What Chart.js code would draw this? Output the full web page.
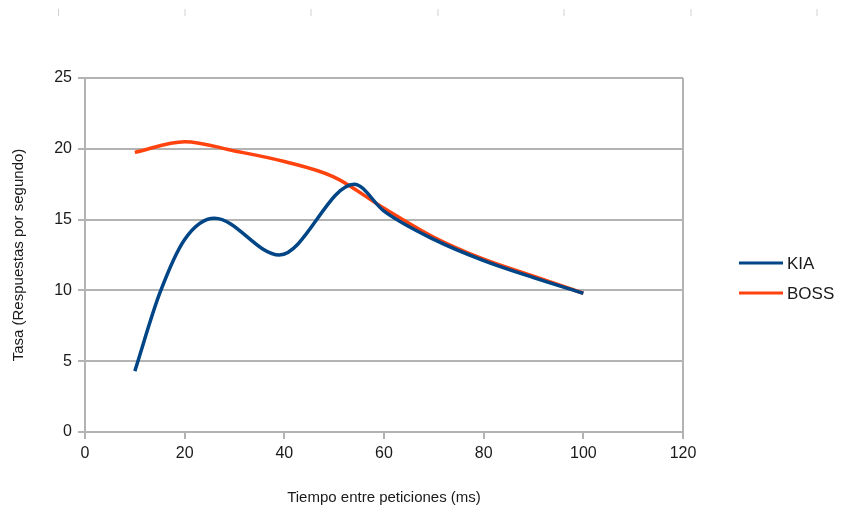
<!DOCTYPE html>
<html>
<head>
<meta charset="utf-8">
<script src="https://cdn.jsdelivr.net/npm/chart.js@4"></script>
<style>
  html, body { margin: 0; padding: 0; background: #fff; }
  #wrap { width: 845px; height: 511px; }
</style>
</head>
<body>
<div id="wrap"><canvas id="grafico"></canvas></div>
<script>
// tiempo entre peticiones (ms) y tasa (respuestas por segundo)
const kiaX = [10, 15, 20, 26, 39, 54, 60, 70, 80, 90, 100];
const kiaY = [4.3, 9.8, 13.6, 15.1, 12.5, 17.5, 15.6, 13.6, 12.1, 10.9, 9.8];
const bossX = [10, 20, 30, 40, 50, 60, 70, 80, 90, 100];
const bossY = [19.75, 20.5, 19.85, 19.1, 18.0, 15.8, 13.75, 12.2, 11.0, 9.8];
const xTicks = [0, 20, 40, 60, 80, 100, 120];
const yTicks = [0, 5, 10, 15, 20, 25];

const gridColor = '#b3b3b3';
const textColor = '#1a1a1a';

function toPoints(xs, ys) {
    return xs.map((x, i) => ({ x: x, y: ys[i] }));
}

// leyenda a la derecha y marcas grises arriba
const extras = {
    id: 'extras',
    afterDraw(chart) {
        const ctx = chart.ctx;
        ctx.save();
        ctx.strokeStyle = '#d0d0d0';
        ctx.lineWidth = 1;
        [58.5, 185, 311, 438, 564, 691, 817].forEach(x => {
            ctx.beginPath();
            ctx.moveTo(x, 9);
            ctx.lineTo(x, 16);
            ctx.stroke();
        });
        chart.data.datasets.forEach((ds, i) => {
            const y = 263 + i * 30;
            ctx.strokeStyle = ds.borderColor;
            ctx.lineWidth = 3;
            ctx.beginPath();
            ctx.moveTo(739, y);
            ctx.lineTo(783, y);
            ctx.stroke();
            ctx.fillStyle = textColor;
            ctx.font = '17px "Liberation Sans", Arial, sans-serif';
            ctx.textBaseline = 'middle';
            ctx.fillText(ds.label, 787, y + 1);
        });
        ctx.restore();
    }
};

const ctx = document.getElementById('grafico').getContext('2d');
const chart = new Chart(ctx, {
    type: 'line',
    data: {
        datasets: [{
            label: 'KIA',
            data: toPoints(kiaX, kiaY),
            borderColor: '#004586',
            backgroundColor: '#004586',
            borderWidth: 3.5,
            pointRadius: 0,
            cubicInterpolationMode: 'monotone'
        }, {
            label: 'BOSS',
            data: toPoints(bossX, bossY),
            borderColor: '#ff420e',
            backgroundColor: '#ff420e',
            borderWidth: 3.5,
            pointRadius: 0,
            cubicInterpolationMode: 'monotone'
        }]
    },
    options: {
        responsive: true,
        maintainAspectRatio: false,
        animation: false,
        layout: { padding: { top: 78, right: 162, left: 0, bottom: 0 } },
        plugins: {
            legend: { display: false },
            tooltip: { enabled: false }
        },
        scales: {
            x: {
                type: 'linear',
                min: 0,
                max: 120,
                afterBuildTicks: s => { s.ticks = xTicks.map(v => ({ value: v })); },
                afterFit: s => { s.height = 79; },
                ticks: {
                    color: textColor,
                    padding: 5,
                    font: { family: '"Liberation Sans", Arial, sans-serif', size: 16 }
                },
                grid: {
                    drawOnChartArea: true,
                    color: c => (c.tick && c.tick.value === 120) ? gridColor : 'rgba(0,0,0,0)',
                    tickColor: gridColor,
                    tickLength: 7,
                    lineWidth: 2
                },
                border: { color: gridColor, width: 2 },
                title: {
                    display: true,
                    text: 'Tiempo entre peticiones (ms)',
                    color: textColor,
                    padding: { top: 0, bottom: 4 },
                    font: { family: '"Liberation Sans", Arial, sans-serif', size: 15 }
                }
            },
            y: {
                min: 0,
                max: 25,
                afterBuildTicks: s => { s.ticks = yTicks.map(v => ({ value: v })); },
                afterFit: s => { s.width = 85; },
                ticks: {
                    color: textColor,
                    padding: 6,
                    font: { family: '"Liberation Sans", Arial, sans-serif', size: 16 }
                },
                grid: {
                    color: gridColor,
                    tickColor: gridColor,
                    tickLength: 7,
                    lineWidth: 2
                },
                border: { color: gridColor, width: 2 },
                title: {
                    display: true,
                    text: 'Tasa (Respuestas por segundo)',
                    color: textColor,
                    padding: { top: 10, bottom: 0 },
                    font: { family: '"Liberation Sans", Arial, sans-serif', size: 15 }
                }
            }
        }
    },
    plugins: [extras]
});
</script>
</body>
</html>
